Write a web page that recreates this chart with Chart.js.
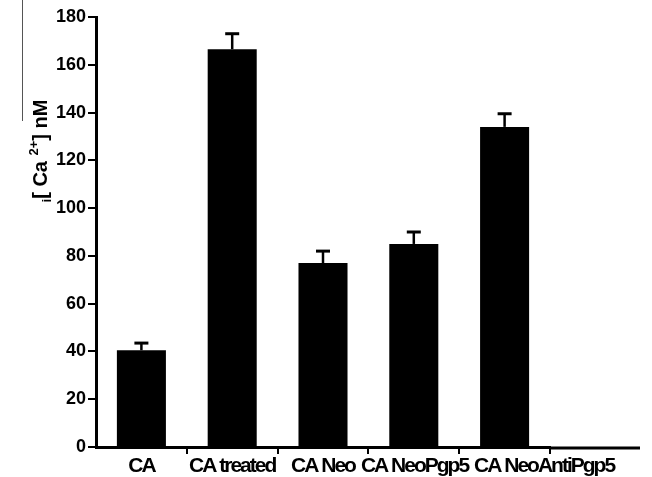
<!DOCTYPE html>
<html>
<head>
<meta charset="utf-8">
<script src="https://cdn.jsdelivr.net/npm/chart.js@4.4.1/dist/chart.umd.min.js"></script>
<style>
  html, body { margin: 0; padding: 0; background: #fff; }
  #wrap { width: 652px; height: 477px; }
</style>
</head>
<body>
<div id="wrap"><canvas id="chart" width="652" height="477"></canvas></div>
<script>
// Intracellular calcium per group (mean and upper error, nM)
const categories = ['CA', 'CA treated', 'CA Neo', 'CA NeoPgp5', 'CA NeoAntiPgp5'];
const meanCa = [40.5, 166.5, 77, 85, 134];
const errCa = [3, 6.5, 5, 5, 5.5];
const yTickLabels = ['0', '20', '40', '60', '80', '100', '120', '140', '160', '180'];

const SANS = "'Liberation Sans', Arial, sans-serif";

// One-sided (upper) error bars with a flat cap
const errorBars = {
  id: 'errorBars',
  afterDatasetsDraw(chart) {
    const { ctx, scales: { y } } = chart;
    const meta = chart.getDatasetMeta(0);
    ctx.save();
    ctx.strokeStyle = '#000';
    meta.data.forEach((bar, i) => {
      const yTop = y.getPixelForValue(meanCa[i] + errCa[i]);
      ctx.lineWidth = 2.5;
      ctx.beginPath();
      ctx.moveTo(bar.x, bar.y);
      ctx.lineTo(bar.x, yTop);
      ctx.stroke();
      ctx.lineWidth = 3;
      ctx.beginPath();
      ctx.moveTo(bar.x - 7, yTop);
      ctx.lineTo(bar.x + 7, yTop);
      ctx.stroke();
    });
    ctx.restore();
  }
};

// Baseline extension, tightly set category labels and the rotated y-axis title
const axisExtras = {
  id: 'axisExtras',
  afterDraw(chart) {
    const { ctx, chartArea } = chart;
    const xs = chart.scales.x;

    ctx.save();
    ctx.strokeStyle = '#000';
    ctx.lineWidth = 3;
    ctx.beginPath();
    ctx.moveTo(chartArea.right - 1, chartArea.bottom + 1);
    ctx.lineTo(chartArea.right + 90, chartArea.bottom + 1);
    ctx.stroke();
    ctx.restore();

    // category labels: centred under each bar, nudged right when they would collide
    ctx.save();
    ctx.fillStyle = '#000';
    ctx.font = 'bold 21px ' + SANS;
    if ('letterSpacing' in ctx) ctx.letterSpacing = '-2px';
    ctx.textAlign = 'left';
    ctx.textBaseline = 'alphabetic';
    let prevRight = -Infinity;
    categories.forEach((lab, i) => {
      const w = ctx.measureText(lab).width;
      let left = xs.getPixelForTick(i) - w / 2;
      if (left < prevRight + 6) left = prevRight + 6;
      ctx.fillText(lab, left, chartArea.bottom + 25);
      prevRight = left + w;
    });
    ctx.restore();

    // Title: i[Ca2+] nM, read bottom to top
    ctx.save();
    ctx.translate(40, 151);
    ctx.rotate(-Math.PI / 2);
    ctx.fillStyle = '#000';
    ctx.textBaseline = 'alphabetic';
    const big = 'bold 20px ' + SANS;
    const small = 'bold 13px ' + SANS;
    const parts = [
      { t: 'i', f: small, dy: 4 },
      { t: '[ Ca ', f: big, dy: 0 },
      { t: '2+', f: small, dy: -9 },
      { t: '] nM', f: big, dy: 0 }
    ];
    let total = 0;
    parts.forEach(p => { ctx.font = p.f; p.w = ctx.measureText(p.t).width; total += p.w; });
    let x = -total / 2;
    parts.forEach(p => {
      ctx.font = p.f;
      ctx.fillText(p.t, x, 7 + p.dy);
      x += p.w;
    });
    ctx.restore();

    // thin rule beside the title
    ctx.save();
    ctx.strokeStyle = '#555';
    ctx.lineWidth = 1;
    ctx.beginPath();
    ctx.moveTo(22.5, 0);
    ctx.lineTo(22.5, 121);
    ctx.stroke();
    ctx.restore();
  }
};

new Chart(document.getElementById('chart'), {
  type: 'bar',
  data: {
    labels: categories,
    datasets: [{
      data: meanCa,
      backgroundColor: '#000',
      borderWidth: 0,
      categoryPercentage: 1,
      barPercentage: 0.54
    }]
  },
  options: {
    responsive: false,
    devicePixelRatio: 1,
    animation: false,
    layout: { padding: { top: 17, right: 102, left: 0, bottom: 0 } },
    plugins: { legend: { display: false }, tooltip: { enabled: false } },
    scales: {
      x: {
        grid: {
          offset: true,
          drawOnChartArea: false,
          drawTicks: true,
          tickLength: 7,
          lineWidth: 2,
          color: (c) => (c.index === 0 || c.index === categories.length ? 'rgba(0,0,0,0)' : '#000')
        },
        border: { display: true, color: '#000', width: 3 },
        ticks: { display: false },
        afterFit(scale) { scale.height = 30; }
      },
      y: {
        min: 0,
        max: 180,
        ticks: {
          stepSize: 10,
          color: '#000',
          font: { family: SANS, size: 18, weight: 'bold' },
          padding: 2,
          callback: (v) => (v % 20 === 0 ? yTickLabels[v / 20] : '')
        },
        grid: { drawOnChartArea: false, drawTicks: true, tickLength: 8, lineWidth: 2, color: '#000' },
        border: { display: true, color: '#000', width: 3 },
        afterFit(scale) { scale.width = 96; }
      }
    }
  },
  plugins: [errorBars, axisExtras]
});
</script>
</body>
</html>
